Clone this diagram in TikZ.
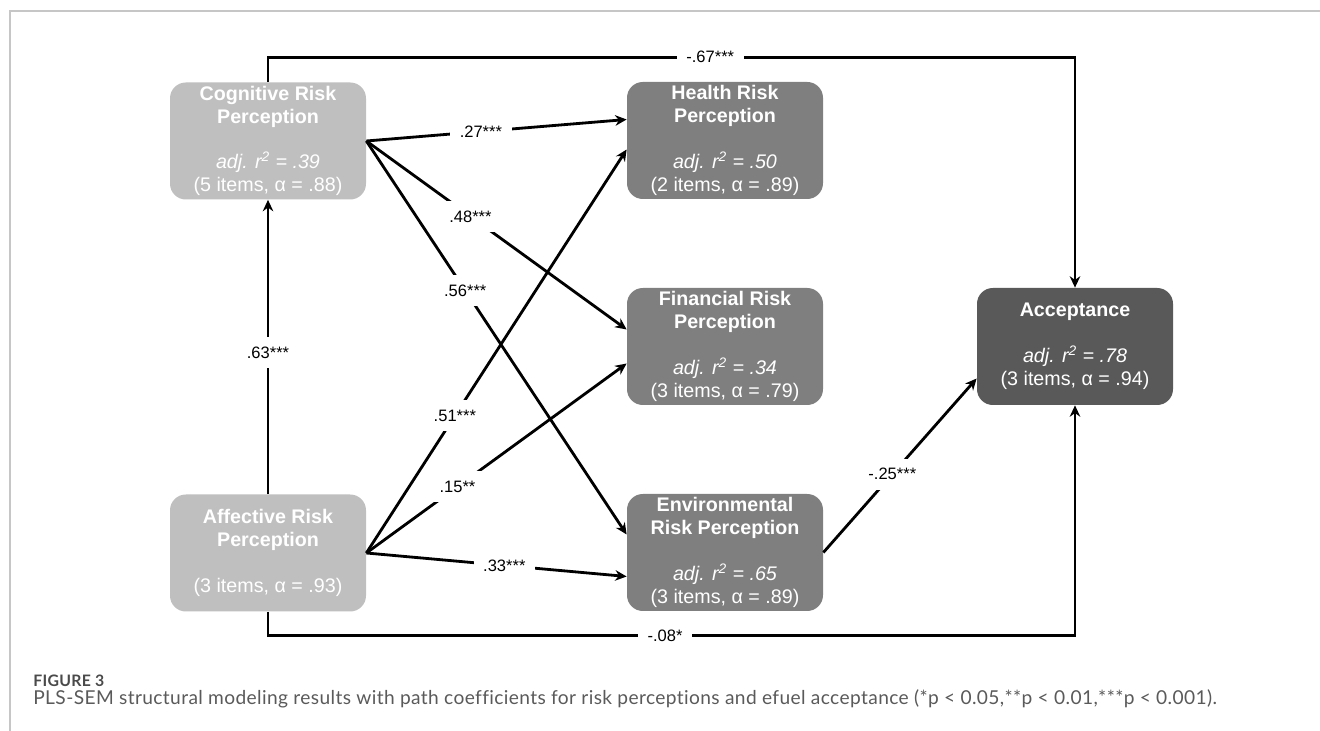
\documentclass[tikz,border=0pt]{standalone}
\usepackage{fontspec}
\setmainfont{Liberation Sans}
\newfontfamily\capfont[LetterSpace=2.0, Ligatures=NoCommon]{Lato}
\usetikzlibrary{arrows.meta,positioning}
\definecolor{lightlv}{HTML}{BFBFBF}
\definecolor{midlv}{HTML}{7F7F7F}
\definecolor{darklv}{HTML}{595959}
\definecolor{frameline}{HTML}{C6C6C6}
\definecolor{captxt}{HTML}{5A5A5A}
\definecolor{capttl}{HTML}{4A4A4A}

\begin{document}
\begin{tikzpicture}[
  font=\fontsize{11.2}{13}\selectfont,
  lv/.style={rounded corners=9pt, align=center, minimum width=3.92cm, minimum height=2.34cm, text=white, inner sep=0pt},
  pred/.style={lv, fill=lightlv},
  med/.style={lv, fill=midlv},
  outc/.style={lv, fill=darklv},
  arr/.style={-{Stealth[length=6.5pt, width=6pt]}, line width=1.6pt},
  coef/.style={font=\fontsize{9.4}{11}\selectfont, fill=white, inner sep=5.5pt},
  captext/.style={anchor=base west, inner sep=0pt}
]
  \useasboundingbox (0,0) rectangle (26.4,-14.62);
  \draw[frameline, line width=0.8pt] (26.4,-0.22) -- (0.2,-0.22) -- (0.2,-14.62);

  \node[pred] (cog) at (5.36,-2.82) {\textbf{Cognitive Risk}\\\textbf{Perception}\\[13pt]\textit{adj. r\textsuperscript{2} = .39}\\(5 items, α = .88)};
  \node[pred] (aff) at (5.36,-11.06) {\textbf{Affective Risk}\\\textbf{Perception}\\[13pt](3 items, α = .93)};
  \node[med] (hea) at (14.5,-2.81) {\textbf{Health Risk}\\\textbf{Perception}\\[13pt]\textit{adj. r\textsuperscript{2} = .50}\\(2 items, α = .89)};
  \node[med] (fin) at (14.5,-6.93) {\textbf{Financial Risk}\\\textbf{Perception}\\[13pt]\textit{adj. r\textsuperscript{2} = .34}\\(3 items, α = .79)};
  \node[med] (env) at (14.5,-11.05) {\textbf{Environmental}\\\textbf{Risk Perception}\\[13pt]\textit{adj. r\textsuperscript{2} = .65}\\(3 items, α = .89)};
  \node[outc] (acc) at (21.5,-6.93) {\textbf{Acceptance}\\[13pt]\textit{adj. r\textsuperscript{2} = .78}\\(3 items, α = .94)};

  % from cognitive
  \draw[arr] (cog.east) -- node[coef, pos=0.44]{.27***} ([yshift=0.42cm]hea.west);
  \draw[arr] (cog.east) -- node[coef, pos=0.40]{.48***} ([yshift=0.34cm]fin.west);
  \draw[arr] (cog.east) -- node[coef, pos=0.38]{.56***} ([yshift=0.36cm]env.west);
  % from affective
  \draw[arr] (aff.east) -- node[coef, pos=0.34]{.51***} ([yshift=-0.18cm]hea.west);
  \draw[arr] (aff.east) -- node[coef, pos=0.35]{.15**} ([yshift=-0.34cm]fin.west);
  \draw[arr] (aff.east) -- node[coef, pos=0.53]{.33***} ([yshift=-0.48cm]env.west);
  \draw[arr] (aff) -- node[coef, pos=0.48]{.63***} (cog);
  \draw[arr] (env.east) -- node[coef, pos=0.45]{-.25***} ([yshift=-0.64cm]acc.west);
  % direct paths to acceptance
  \draw[arr] (cog.north) -- ++(0,0.5) -| node[coef, pos=0.274]{-.67***} (acc.north);
  \draw[arr] (aff.south) -- ++(0,-0.47) -| node[coef, pos=0.246]{-.08*} (acc.south);

  \node[captext, text=capttl, font=\capfont\fontsize{9}{11}\selectfont\bfseries] (fig) at (0.66,-13.74) {FIGURE 3};
  \node[captext, text=captxt, font=\capfont\fontsize{10.9}{13}\selectfont] (cap) at (0.66,-14.1) {PLS-SEM structural modeling results with path coefficients for risk perceptions and efuel acceptance (*p < 0.05,**p < 0.01,***p < 0.001).};
\end{tikzpicture}
\end{document}
